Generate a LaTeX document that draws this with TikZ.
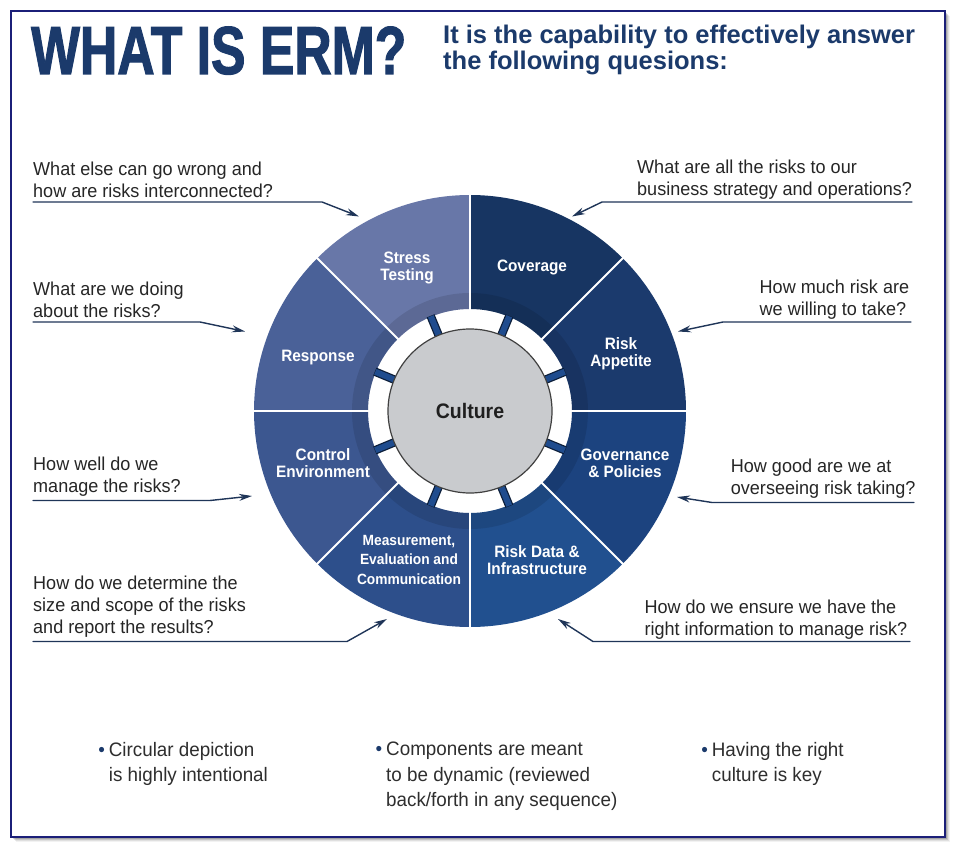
\documentclass[tikz,border=0pt]{standalone}
\usepackage{fontspec}
\setmainfont{Liberation Sans}
\newfontfamily\titlefont{Liberation Sans}[FakeStretch=0.76,FakeBold=1.5]
\newfontfamily\askfont{Liberation Sans}[FakeStretch=0.965]
\newfontfamily\segfont{Liberation Sans}[FakeStretch=0.93]
\usetikzlibrary{arrows.meta}
\definecolor{ermnavy}{HTML}{1B3A6B}
\definecolor{frameblue}{HTML}{1B1F78}
\definecolor{lineblue}{HTML}{1F3558}
\definecolor{tabblue}{HTML}{1F4C8E}
\definecolor{cultgray}{HTML}{C9CBCE}
\definecolor{segAppetite}{HTML}{1B3A6D}
\definecolor{segCoverage}{HTML}{173562}
\definecolor{segStress}{HTML}{6877A8}
\definecolor{segResponse}{HTML}{4A6198}
\definecolor{segControl}{HTML}{3C5790}
\definecolor{segMeasure}{HTML}{2D4F8B}
\definecolor{segData}{HTML}{21508F}
\definecolor{segGovern}{HTML}{1C437F}
\tikzset{
  ask/.style={font=\askfont\fontsize{18.7}{22}\selectfont,text=black!85,align=left,inner sep=0pt,anchor=north west},
  seglabel/.style={font=\segfont\bfseries\fontsize{16.5}{17}\selectfont,text=white,align=center,inner sep=0pt},
  askline/.style={draw=lineblue,line width=1.4pt,-{Stealth[length=13pt,width=7pt]}},
  note/.style={font=\askfont\fontsize{19.5}{25.5}\selectfont,text=black!82,align=left,inner sep=0pt,anchor=north west},
}
\newcommand{\notedot}{\llap{\textcolor{ermnavy}{\textbullet}\hspace{4pt}}}
\begin{document}
\begin{tikzpicture}[x=1pt,y=-1pt,line cap=round]
	\useasboundingbox (0,0) rectangle (958,850);
	% frame with soft shadow
	\foreach \d/\o in {5/0.05,4/0.08,3/0.12,2/0.16}
		\fill[black,opacity=\o] (11+\d,11+\d) rectangle (945+\d,837+\d);
	\draw[frameblue,line width=2.2pt,fill=white,line cap=butt] (11,11) rectangle (945,837);
	% heading
	\node[anchor=base west,inner sep=0pt,font=\titlefont\bfseries\fontsize{68}{68}\selectfont,text=ermnavy] (title) at (31,74) {WHAT IS ERM?};
	\node[anchor=north west,inner sep=0pt,align=left,font=\bfseries\fontsize{25.5}{25.5}\selectfont,text=ermnavy] (sub) at (443,25) {It is the capability to effectively answer\\the following quesions:};
	% wheel
	\begin{scope}[shift={(470,411)},yscale=-1,line cap=butt]
		\foreach \a/\c in {0/segAppetite,45/segCoverage,90/segStress,135/segResponse,180/segControl,225/segMeasure,270/segData,315/segGovern}
			\fill[\c] (\a:102) -- (\a:216) arc[start angle=\a,end angle=\a+45,radius=216] -- ({\a+45}:102) arc[start angle=\a+45,end angle=\a,radius=102] -- cycle;
		\fill[black,opacity=0.11,even odd rule] (0,0) circle[radius=118] (0,0) circle[radius=102];
		\foreach \a in {0,45,...,315}
			\draw[white,line width=2pt] (\a:101) -- (\a:217);
		\foreach \a in {22.5,67.5,...,337.5}{
			\draw[black!60!tabblue,line width=8.5pt] (\a:80) -- (\a:103);
			\draw[tabblue,line width=6pt] (\a:80) -- (\a:102.5);
		}
	\end{scope}
	\node[circle,fill=cultgray,draw=black!75,line width=1.2pt,minimum size=164pt,inner sep=0pt,font=\segfont\bfseries\fontsize{21}{21}\selectfont,text=black!88] (culture) at (470,411) {Culture};
	\node[seglabel] (stress) at (407,268) {Stress\\Testing};
	\node[seglabel] (coverage) at (532,267.5) {Coverage};
	\node[seglabel] (appetite) at (621,354) {Risk\\Appetite};
	\node[seglabel] (governance) at (625,463) {Governance\\\& Policies};
	\node[seglabel] (riskdata) at (537,560) {Risk Data \&\\Infrastructure};
	\node[seglabel,font=\segfont\bfseries\fontsize{14.8}{19.5}\selectfont] (measure) at (409,559.5) {Measurement,\\Evaluation and\\Communication};
	\node[seglabel] (control) at (323,463) {Control\\Environment};
	\node[seglabel] (response) at (318,357.5) {Response};
	% questions
	\node[ask] (q1) at (33,161.6) {What else can go wrong and\\how are risks interconnected?};
	\node[ask] (q2) at (33,281.6) {What are we doing\\about the risks?};
	\node[ask] (q3) at (33,456.6) {How well do we\\manage the risks?};
	\node[ask] (q4) at (33,576) {How do we determine the\\size and scope of the risks\\and report the results?};
	\node[ask] (q5) at (637,160) {What are all the risks to our\\business strategy and operations?};
	\node[ask] (q6) at (759.5,280) {How much risk are\\we willing to take?};
	\node[ask] (q7) at (730.7,458.3) {How good are we at\\overseeing risk taking?};
	\node[ask] (q8) at (644.3,599.3) {How do we ensure we have the\\right information to manage risk?};
	% pointer lines
	\coordinate (q1s) at (33,202);    \coordinate (q1k) at (322,202);   \coordinate (q1t) at (359,216.5);
	\coordinate (q2s) at (33,322);    \coordinate (q2k) at (200,322);   \coordinate (q2t) at (245,331.5);
	\coordinate (q3s) at (33,500.5);  \coordinate (q3k) at (210,500.5); \coordinate (q3t) at (252,496);
	\coordinate (q4s) at (33,641.5);  \coordinate (q4k) at (347,641.5); \coordinate (q4t) at (387,619);
	\coordinate (q5s) at (912,202);   \coordinate (q5k) at (602,202);   \coordinate (q5t) at (572,216.5);
	\coordinate (q6s) at (911,322);   \coordinate (q6k) at (723,322);   \coordinate (q6t) at (678,331.5);
	\coordinate (q7s) at (914,502.5); \coordinate (q7k) at (712,502.5); \coordinate (q7t) at (677,497);
	\coordinate (q8s) at (910,641.5); \coordinate (q8k) at (593,641.5); \coordinate (q8t) at (558,619);
	\foreach \q in {q1,q2,q3,q4,q5,q6,q7,q8}
		\draw[askline] (\q s) -- (\q k) -- (\q t);
	% notes at the foot
	\node[note] (n1) at (108.7,742) {\notedot Circular depiction\\is highly intentional};
	\node[note] (n2) at (386,742) {\notedot Components are meant\\to be dynamic (reviewed\\back/forth in any sequence)};
	\node[note] (n3) at (711.7,742) {\notedot Having the right\\culture is key};
\end{tikzpicture}
\end{document}
